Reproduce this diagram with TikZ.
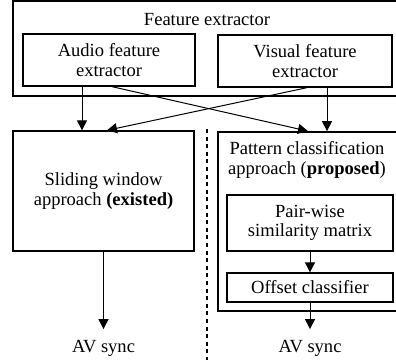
\documentclass[tikz,border=0pt]{standalone}
\usepackage{fontspec}
\setmainfont{Liberation Serif}
\usepackage{tikz}
\usetikzlibrary{arrows.meta, calc}

\begin{document}
\begin{tikzpicture}[x=0.75pt, y=-0.75pt,
  font=\fontsize{13.9}{14.5}\selectfont,
  box/.style={draw, line width=1pt, align=center, inner sep=0pt},
  outerbox/.style={draw, line width=1.3pt, inner sep=0pt},
  arr/.style={-{Triangle[length=7.5pt, width=7.5pt]}, line width=0.75pt},
  avsync/.style={inner sep=0pt, outer sep=8pt}]
  \useasboundingbox (0,0) rectangle (396,360);
  \clip (0,0) rectangle (396,360);

  % Feature extractor
  \node[outerbox, minimum width=297.75pt, minimum height=71.25pt] (fe) at (211.5, 48.5) {};
  \node (fetitle) at (207, 20) {Feature extractor};
  \node[box, minimum width=129pt, minimum height=39pt] (audio) at (109, 60) {Audio feature\\extractor};
  \node[box, minimum width=130.5pt, minimum height=39pt] (visual) at (305, 61) {Visual feature\\extractor};

  % Existing approach
  \node[box, minimum width=135.75pt, minimum height=90pt] (slide) at (103.5, 191) {Sliding window\\approach \textbf{(existed)}};

  % Proposed approach
  \node[outerbox, minimum width=144pt, minimum height=134.25pt] (pattern) at (314, 221.5) {};
  \node[align=center] (ptitle) at (307, 160) {Pattern classification\\approach (\textbf{proposed})};
  \node[box, minimum width=124.5pt, minimum height=42pt] (pair) at (310, 223) {Pair-wise\\similarity matrix};
  \node[box, minimum width=124.5pt, minimum height=21.75pt] (offset) at (310, 287.5) {Offset classifier};

  % Outputs
  \node[avsync, anchor=base] (sync1) at (103.5, 352) {AV sync};
  \node[avsync, anchor=base] (sync2) at (310, 352) {AV sync};

  \draw[arr] ($(audio.south)+(-27,0)$) coordinate (a1) -- (a1 |- slide.north);
  \draw[arr] ($(visual.south)+(22,0)$) coordinate (v1) -- (v1 |- pattern.north);
  \draw[arr] ($(audio.south)+(3,0)$) -- ($(pattern.north)+(-6,0)$);
  \draw[arr] ($(visual.south)+(2,0)$) -- ($(slide.north)+(3.5,0)$);
  \draw[arr] (pair) -- (offset);
  \draw[arr] (slide) -- (sync1);
  \draw[arr] (offset) -- (sync2);

  % Separator
  \draw[line width=1.4pt, dash pattern=on 3pt off 2.7pt] (207, 129) -- (207, 362);
\end{tikzpicture}
\end{document}
